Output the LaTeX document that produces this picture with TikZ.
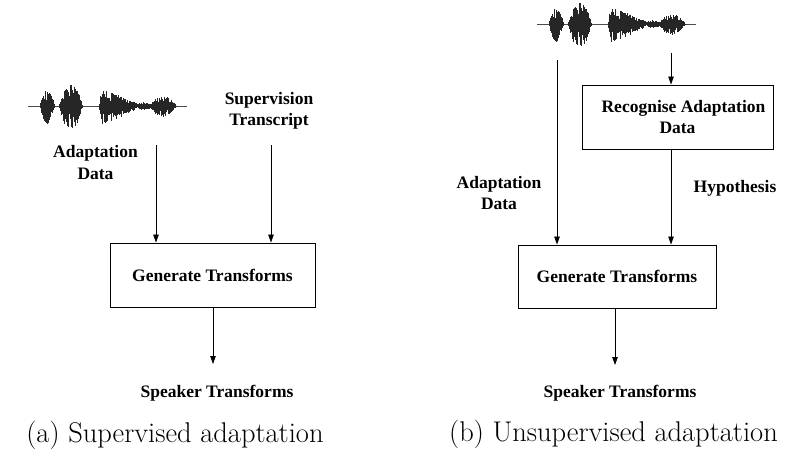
\documentclass[tikz,border=0pt]{standalone}
\usepackage{fontspec}
\usetikzlibrary{arrows.meta}
\newfontfamily\lblfont{Liberation Serif}

% one burst of a speech waveform: start, end, amplitude, envelope (0 = symmetric, 1 = sharp onset and decay)
\newcommand{\speechburst}[4]{%
  \pgfmathsetmacro{\blen}{#2-#1}%
  \foreach \t in {0,0.5,...,\blen} {%
    \ifnum#4=0
      \pgfmathsetmacro{\env}{max(sin(180*\t/\blen),0.05)^0.7}%
    \else
      \pgfmathsetmacro{\env}{ifthenelse(\t<0.06*\blen, \t/(0.06*\blen)+0.05, max(1-(\t-0.06*\blen)/(0.94*\blen),0.05)^0.8)}%
    \fi
    \pgfmathsetmacro{\hup}{#3*\env*(0.3+0.7*rnd)}%
    \pgfmathsetmacro{\hdn}{1.12*#3*\env*(0.3+0.7*rnd)}%
    \draw[line width=0.55pt,black!85] (#1+\t,-\hup) -- (#1+\t,\hdn);
  }%
}

\tikzset{
  lbl/.style={font=\lblfont\bfseries\fontsize{17.5}{21.5}\selectfont, align=center, inner sep=0pt},
  blk/.style={draw, line width=0.9pt, inner sep=0pt},
  arr/.style={line width=0.8pt, -{Triangle[length=8pt,width=5.5pt]}},
  capt/.style={font=\fontsize{28.5}{34}\selectfont, inner sep=0pt},
  waveform/.pic={
    \pgfmathsetseed{4711}
    \draw[line width=0.5pt,black!70] (0,0) -- (159,0);
    \speechburst{12}{26}{16}{0}
    \speechburst{31}{54}{22}{0}
    \speechburst{71}{112}{17}{1}
    \speechburst{108}{124}{4}{0}
    \speechburst{122}{148}{10}{0}
  }
}

\begin{document}
\begin{tikzpicture}[x=1pt,y=-1pt]
  \useasboundingbox (0,0) rectangle (800,453);

  % ---------- (a) supervised adaptation ----------
  \pic at (28,106) {waveform};
  \node[lbl] (adA) at (95.5,162.5) {Adaptation\\Data};
  \node[lbl] (supA) at (269,111) {Supervision\\Transcript};
  \node[blk, minimum width=205pt, minimum height=64pt, lbl] (genA) at (212.5,275) {Generate Transforms};
  \coordinate (inA1) at (156,145);
  \coordinate (inA2) at (271,145);
  \coordinate (outA) at (213,364);
  \draw[arr] (inA1) -- (inA1 |- genA.north);
  \draw[arr] (inA2) -- (inA2 |- genA.north);
  \draw[arr] (genA.south -| outA) -- (outA);
  \node[lbl] (spkA) at (217,393) {Speaker Transforms};
  \node[capt] (capA) at (175,435) {(a) Supervised adaptation};

  % ---------- (b) unsupervised adaptation ----------
  \pic at (537,24) {waveform};
  \node[blk, minimum width=191pt, minimum height=64pt, lbl] (recB) at (677.5,117) {\hspace*{12pt}Recognise Adaptation\\Data};
  \node[blk, minimum width=198pt, minimum height=63pt, lbl] (genB) at (617,276.5) {Generate Transforms};
  \node[lbl] (adB) at (499,193) {Adaptation\\Data};
  \node[lbl] (hypB) at (735,188) {Hypothesis};
  \coordinate (inB1) at (557,60);
  \coordinate (inB2) at (671,53);
  \coordinate (outB) at (615,365);
  \draw[arr] (inB1) -- (inB1 |- genB.north);
  \draw[arr] (inB2) -- (inB2 |- recB.north);
  \draw[arr] (recB.south -| inB2) -- (inB2 |- genB.north);
  \draw[arr] (genB.south -| outB) -- (outB);
  \node[lbl] (spkB) at (620,393) {Speaker Transforms};
  \node[capt] (capB) at (613.5,434) {(b) Unsupervised adaptation};
\end{tikzpicture}
\end{document}
